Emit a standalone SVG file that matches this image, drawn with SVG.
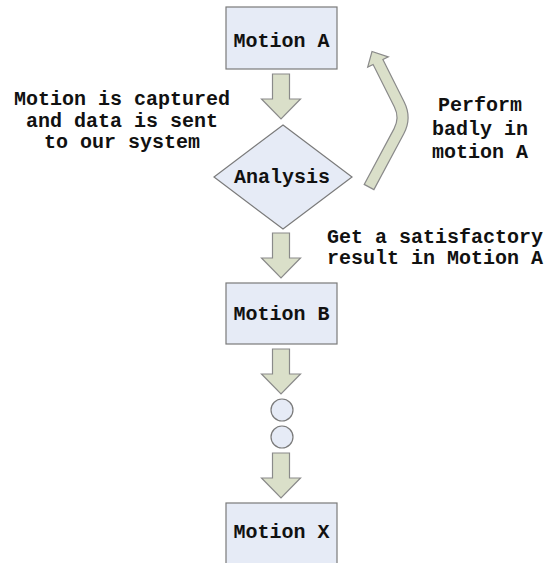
<svg xmlns="http://www.w3.org/2000/svg" width="544" height="563" viewBox="0 0 544 563">
<style>
.box{fill:#e6ebf6;stroke:#7a7a7a;stroke-width:1.2}
.arr{fill:#dadfc9;stroke:#8a8a8a;stroke-width:1.2;stroke-linejoin:miter}
.t{font-family:"Liberation Mono","Courier New",monospace;font-weight:bold;font-size:20px;fill:#111}
.c{text-anchor:middle}
</style>
<defs>
<path id="down" d="M-8.5,0 H8.5 V25 H19.5 L0,45 L-19.5,25 H-8.5 Z"/>
</defs>
<rect width="544" height="563" fill="#fff"/>
<g id="connectors">
<use href="#down" class="arr" x="281" y="74"/>
<use href="#down" class="arr" x="281" y="233"/>
<use href="#down" class="arr" x="281" y="349"/>
<use href="#down" class="arr" x="281" y="453"/>
<path class="arr" d="M373.9,189.6 L403.8,133.8 Q412.2,118.1 404.2,102.1 L382.9,59.5 L388.3,56.9 L372,51.5 L367.7,67.1 L373.1,64.5 L394.4,107.1 Q399.8,117.9 394.1,128.6 L364.2,184.4 Z"/>
</g>
<g id="motion-a">
<rect class="box" x="226" y="7" width="111" height="62"/>
<text class="t c" x="281.5" y="47">Motion A</text>
</g>
<g id="analysis">
<polygon class="box" points="283,125 352,177 283,229 214,177"/>
<text class="t c" x="282" y="183">Analysis</text>
</g>
<g id="motion-b">
<rect class="box" x="226" y="283" width="111" height="61"/>
<text class="t c" x="281.5" y="320">Motion B</text>
</g>
<g id="dot-1">
<circle class="box" cx="282" cy="410" r="11"/>
</g>
<g id="dot-2">
<circle class="box" cx="282" cy="437" r="11"/>
</g>
<g id="motion-x">
<rect class="box" x="226" y="503" width="111" height="64"/>
<text class="t c" x="281.5" y="538">Motion X</text>
</g>
<g id="labels">
<text class="t c" x="122" y="105">Motion is captured</text>
<text class="t c" x="122" y="127">and data is sent</text>
<text class="t c" x="122" y="148">to our system</text>
<text class="t c" x="480" y="111">Perform</text>
<text class="t c" x="480" y="135">badly in</text>
<text class="t c" x="480" y="158">motion A</text>
<text class="t" x="327" y="243">Get a satisfactory</text>
<text class="t" x="327" y="264">result in Motion A</text>
</g>
</svg>
